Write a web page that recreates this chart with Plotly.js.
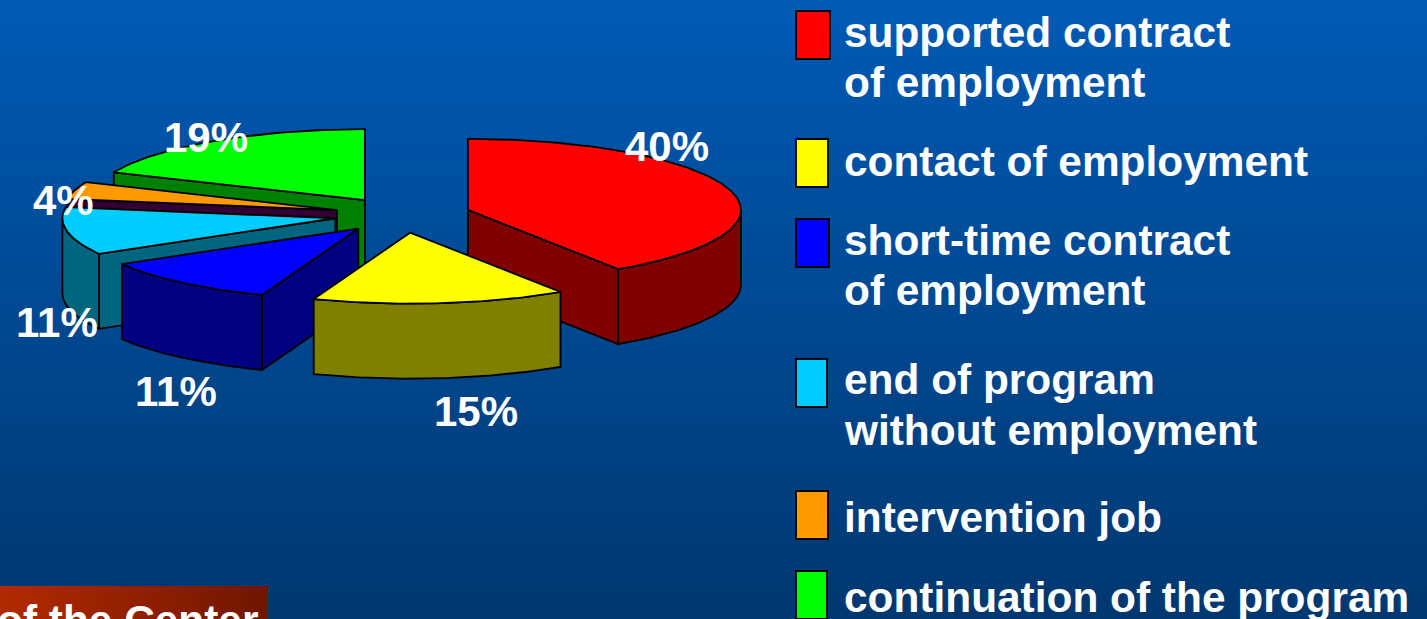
<!DOCTYPE html>
<html>
<head>
<meta charset="utf-8">
<script src="https://cdn.plot.ly/plotly-3.0.1.min.js"></script>
<style>html,body{margin:0;padding:0;background:#00427f;overflow:hidden}#chart{width:1427px;height:619px}</style>
</head>
<body>
<div id="chart"></div>
<script>
// --- data ---
const categories = ['supported contract of employment','contact of employment','short-time contract of employment','end of program without employment','intervention job','continuation of the program'];
const values = [40, 15, 11, 11, 4, 19];
const valueLabels = ['40%','15%','11%','11%','4%','19%'];
const legendLines = [['supported contract','of employment'],['contact of employment'],['short-time contract','of employment'],['end of program','without employment'],['intervention job'],['continuation of the program']];
const footerText = 'of the Center';

// --- styles ---
const topColors = ['#ff0000','#ffff00','#0000ff','#00ccff','#ff9900','#00ff00'];
const wallColors = ['#800000','#808000','#000080','#006680','#330033','#008000'];
const drawOrder = [5,4,3,2,0,1];
const labelPos = [[667,146],[476,411],[176,391],[57,322],[63,200],[206,137]];
const swatches = [[796,830,11,59],[796,828,139,187],[796,829,219,267],[796,827,359,407],[796,828,491,539],[796,827,571,619]];
const lineY = [[32,82],[161],[240,290],[379,430],[517],[597]];
const W = 1427, H = 619, FONT = '"Liberation Sans", Arial, sans-serif';
const pie = {cx:402.5, cy:215, rx:273, ry:71, depth:75, explode:0.25, skew:2.7};

const rad = d => d*Math.PI/180;
const warp = a => a + pie.skew*Math.sin(rad(a/2));
const total = values.reduce((s,v)=>s+v,0);
let acc = 0;
const slices = values.map(v => { const a0 = warp(acc/total*360); acc += v; return {a0, a1: warp(acc/total*360)}; });

function poly(pts, fill, name){
  return {type:'scatter', mode:'lines', x:pts.map(p=>p[0]), y:pts.map(p=>p[1]), fill:'toself', fillcolor:fill,
    line:{color:'#000000', width:1.8, shape:'linear'}, hoverinfo:'text', text:name, showlegend:false};
}
function pieTraces(i){
  const {a0,a1} = slices[i], mid = (a0+a1)/2;
  const ax = pie.cx + pie.explode*pie.rx*Math.sin(rad(mid));
  const ay = pie.cy - pie.explode*pie.ry*Math.cos(rad(mid));
  const rim = a => [ax + pie.rx*Math.sin(rad(a)), ay - pie.ry*Math.cos(rad(a))];
  const down = p => [p[0], p[1] + pie.depth];
  const arc = (s,e) => { const out=[]; for(let a=s;a<e;a+=1) out.push(rim(a)); out.push(rim(e)); return out; };
  const apex = [ax,ay], res = [];
  const quad = (p,q) => [p,q,down(q),down(p),p];
  // only the radial faces that look toward the viewer
  if (Math.sin(rad(a0)) < -1e-6) res.push(poly(quad(apex,rim(a0)), wallColors[i], categories[i]));
  if (Math.sin(rad(a1)) > 1e-6) res.push(poly(quad(apex,rim(a1)), wallColors[i], categories[i]));
  const s = Math.max(a0,90), e = Math.min(a1,270);
  if (e > s) { const top = arc(s,e); res.push(poly(top.concat(top.slice().reverse().map(down), [top[0]]), wallColors[i], categories[i])); }
  res.push(poly([apex].concat(arc(a0,a1),[apex]), topColors[i], categories[i]));
  return res;
}

const traces = [];
// background gradient
traces.push({type:'scatter', mode:'lines', x:[0,W,W,0,0], y:[0,0,H,H,0], fill:'toself', line:{width:0}, hoverinfo:'skip', showlegend:false,
  fillgradient:{type:'vertical', start:0, stop:H, colorscale:[[0,'#005ab5'],[1,'#00376f']]}});
// footer box
traces.push({type:'scatter', mode:'lines', x:[0,268,268,0,0], y:[586,586,H,H,586], fill:'toself', line:{width:0}, hoverinfo:'skip', showlegend:false,
  fillgradient:{type:'horizontal', start:0, stop:268, colorscale:[[0,'#b22a00'],[1,'#701600']]}});
drawOrder.forEach(i => traces.push(...pieTraces(i)));

const annotations = [];
const txt = (x,y,text,size,xanchor,yanchor) => annotations.push({xref:'x',yref:'y',x,y,text,showarrow:false,xanchor,yanchor:yanchor||'middle',borderpad:0,borderwidth:0,
  font:{family:FONT,size,color:'#ffffff',weight:700}});
valueLabels.forEach((t,i)=>txt(labelPos[i][0],labelPos[i][1],'<b>'+t+'</b>',42,'center'));
legendLines.forEach((ls,i)=>ls.forEach((l,j)=>txt(844,lineY[i][j],'<b>'+l+'</b>',42.4,'left')));
txt(258,597,'<b>'+footerText+'</b>',42.4,'right','top');

const shapes = swatches.map((s,i)=>({type:'rect',xref:'x',yref:'y',x0:s[0],x1:s[1],y0:s[2],y1:s[3],fillcolor:topColors[i],line:{color:'#000000',width:1.8}}));

Plotly.newPlot('chart', traces, {
  width:W, height:H, margin:{l:0,r:0,t:0,b:0,pad:0}, paper_bgcolor:'#00427f', plot_bgcolor:'rgba(0,0,0,0)',
  xaxis:{range:[0,W],visible:false,fixedrange:true}, yaxis:{range:[H,0],visible:false,fixedrange:true},
  showlegend:false, shapes, annotations, font:{family:FONT}
}, {displayModeBar:false, staticPlot:true});
</script>
</body>
</html>
